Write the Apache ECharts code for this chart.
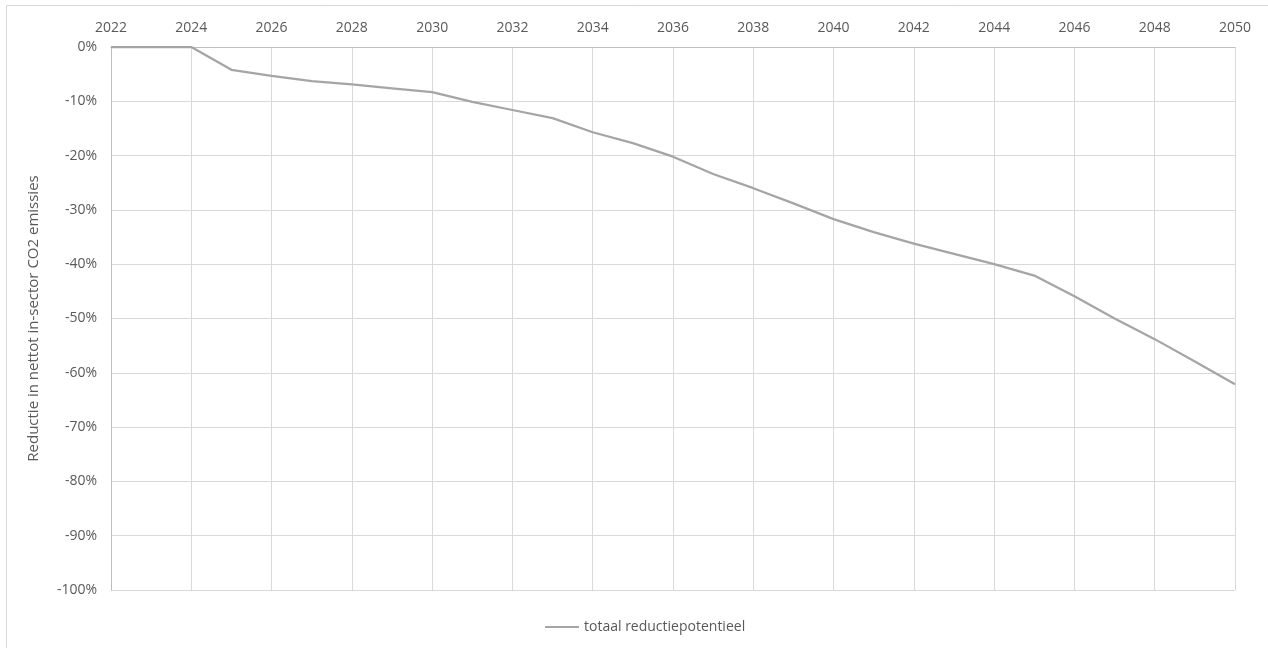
<!DOCTYPE html>
<html>
<head>
<meta charset="utf-8">
<script src="https://cdn.jsdelivr.net/npm/echarts@6/dist/echarts.min.js"></script>
<style>
  html, body { margin: 0; padding: 0; background: #fff; }
  #chart { width: 1268px; height: 648px; }
</style>
</head>
<body>
<div id="chart"></div>
<script>
// Years on the horizontal axis
const years = ['2022','2023','2024','2025','2026','2027','2028','2029','2030','2031',
               '2032','2033','2034','2035','2036','2037','2038','2039','2040','2041',
               '2042','2043','2044','2045','2046','2047','2048','2049','2050'];

// Total reduction potential, as a fraction of net in-sector CO2 emissions
const totaalReductie = [0, 0, 0, -0.042, -0.053, -0.063, -0.069, -0.076, -0.083, -0.101,
                        -0.116, -0.131, -0.157, -0.177, -0.202, -0.234, -0.260, -0.288, -0.317, -0.341,
                        -0.362, -0.381, -0.400, -0.421, -0.459, -0.500, -0.538, -0.579, -0.621];

const seriesName = 'totaal reductiepotentieel';
const yTitle = 'Reductie in nettot in-sector CO2 emissies';

const fontFamily = '"Open Sans", "Noto Sans", sans-serif';
const textColor = '#595959';

const chart = echarts.init(document.getElementById('chart'), null, { renderer: 'canvas' });

chart.setOption({
  animation: false,
  backgroundColor: '#ffffff',
  textStyle: { fontFamily: fontFamily },
  graphic: [{
    type: 'rect',
    shape: { x: 6.5, y: 5.5, width: 1400, height: 800 },
    style: { fill: 'none', stroke: '#d9d9d9', lineWidth: 1 },
    silent: true,
    z: -1
  }],
  grid: { left: 111, right: 33, top: 47, bottom: 58 },
  xAxis: {
    type: 'category',
    data: years,
    position: 'top',
    boundaryGap: false,
    axisLine: { show: true, lineStyle: { color: '#bfbfbf', width: 1 } },
    axisTick: { show: false },
    axisLabel: {
      interval: 1,
      color: textColor,
      fontSize: 14,
      fontFamily: fontFamily,
      margin: 12
    },
    splitLine: { show: true, interval: 1, lineStyle: { color: '#d9d9d9', width: 1 } }
  },
  yAxis: {
    type: 'value',
    min: -1,
    max: 0,
    interval: 0.1,
    name: yTitle,
    nameLocation: 'middle',
    nameRotate: 90,
    nameGap: 70,
    nameTextStyle: { color: textColor, fontSize: 15, fontFamily: fontFamily },
    axisLine: { show: true, lineStyle: { color: '#bfbfbf', width: 1 } },
    axisTick: { show: false },
    axisLabel: {
      color: textColor,
      fontSize: 14,
      fontFamily: fontFamily,
      margin: 14,
      formatter: v => Math.round(v * 100) + '%'
    },
    splitLine: { show: true, lineStyle: { color: '#d9d9d9', width: 1 } }
  },
  legend: {
    bottom: 9,
    left: 540,
    itemWidth: 34,
    itemHeight: 10,
    itemGap: 10,
    textStyle: { color: textColor, fontSize: 14, fontFamily: fontFamily },
    data: [{ name: seriesName, icon: 'path://M0,4 L34,4 L34,6 L0,6 Z' }]
  },
  series: [{
    name: seriesName,
    type: 'line',
    data: totaalReductie,
    symbol: 'none',
    lineStyle: { color: '#a5a5a5', width: 2.25 },
    itemStyle: { color: '#a5a5a5' }
  }]
});
</script>
</body>
</html>
